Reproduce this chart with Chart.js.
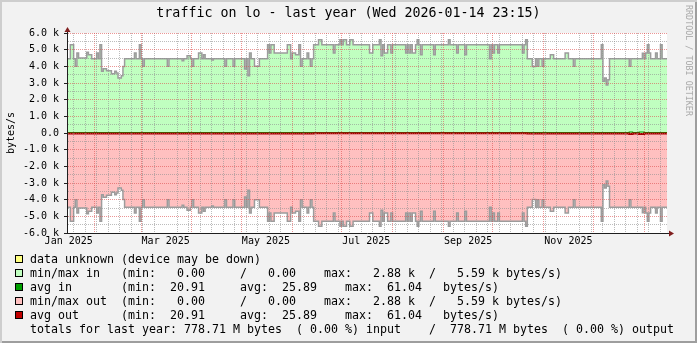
<!DOCTYPE html>
<html>
<head>
<meta charset="utf-8">
<title>traffic on lo - last year</title>
<script src="https://cdn.jsdelivr.net/npm/chart.js@4.4.1/dist/chart.umd.min.js"></script>
<style>
  body { margin: 0; background: #fff; }
  #graph {
    position: relative; width: 697px; height: 343px; overflow: hidden;
    background: #f2f2f2;
    box-shadow: inset 2px 2px 0 #cecece, inset -2px -2px 0 #9e9e9e;
    font-family: 'DejaVu Sans Mono', monospace;
    color: #000;
  }
  #graph canvas { position: absolute; left: 0; top: 0; }
  .title { position: absolute; left: 0; top: 5px; width: 697px; text-align: center; font-size: 13.3px; line-height: 16px; }
  .mark { position: absolute; left: 693px; top: 5px; transform: rotate(90deg); transform-origin: 0 0;
          font-size: 8.4px; line-height: 8.4px; color: #a9a9a9; white-space: nowrap; }
  .legend { position: absolute; left: 0; top: 252px; font-size: 11.63px; line-height: 14px; }
  .legend div { position: relative; height: 14px; padding-left: 30px; white-space: pre; }
  .legend i { position: absolute; left: 15px; top: 3px; width: 8px; height: 8px; border: 1px solid #000; box-sizing: border-box; }
</style>
</head>
<body>
<div id="graph">
  <canvas id="chart" width="697" height="343"></canvas>
  <div class="title">traffic on lo - last year (Wed 2026-01-14 23:15)</div>
  <div class="mark">RRDTOOL / TOBI OETIKER</div>
  <div class="legend">
    <div><i style="background:#ffff80"></i>data unknown (device may be down)</div>
    <div><i style="background:#c0ffc0"></i>min/max in   (min:   0.00     /   0.00    max:   2.88 k  /   5.59 k bytes/s)</div>
    <div><i style="background:#00a000"></i>avg in       (min:  20.91     avg:  25.89    max:  61.04   bytes/s)</div>
    <div><i style="background:#ffc0c0"></i>min/max out  (min:   0.00     /   0.00    max:   2.88 k  /   5.59 k bytes/s)</div>
    <div><i style="background:#c00000"></i>avg out      (min:  20.91     avg:  25.89    max:  61.04   bytes/s)</div>
    <div>totals for last year: 778.71 M bytes  ( 0.00 %) input    /  778.71 M bytes  ( 0.00 %) output</div>
  </div>
</div>
<script>
const DAY = 86400000
const start = Date.UTC(2025, 0, 14, 23, 15)
const end = Date.UTC(2026, 0, 14, 23, 15)

// daily max rate, bytes/s -- each value holds from its day until the next entry
const maxDays = [
  '2025-01-14', '2025-01-15', '2025-01-17', '2025-01-19', '2025-01-20', '2025-01-21', '2025-01-22',
  '2025-01-27', '2025-01-28', '2025-01-30', '2025-02-02', '2025-02-03', '2025-02-04', '2025-02-05',
  '2025-02-06', '2025-02-08', '2025-02-11', '2025-02-13', '2025-02-14', '2025-02-15', '2025-02-17',
  '2025-02-18', '2025-02-19', '2025-02-25', '2025-02-26', '2025-02-28', '2025-03-01', '2025-03-02',
  '2025-03-03', '2025-03-17', '2025-03-18', '2025-03-26', '2025-03-27', '2025-03-29', '2025-03-31',
  '2025-04-01', '2025-04-02', '2025-04-05', '2025-04-07', '2025-04-08', '2025-04-09', '2025-04-13',
  '2025-04-14', '2025-04-21', '2025-04-22', '2025-04-26', '2025-04-27', '2025-05-03', '2025-05-04',
  '2025-05-05', '2025-05-06', '2025-05-07', '2025-05-09', '2025-05-12', '2025-05-17', '2025-05-18',
  '2025-05-19', '2025-05-21', '2025-05-29', '2025-05-31', '2025-06-01', '2025-06-03', '2025-06-05',
  '2025-06-06', '2025-06-07', '2025-06-10', '2025-06-11', '2025-06-12', '2025-06-13', '2025-06-14',
  '2025-06-17', '2025-06-19', '2025-06-26', '2025-06-27', '2025-06-30', '2025-07-01', '2025-07-02',
  '2025-07-04', '2025-07-06', '2025-07-08', '2025-07-18', '2025-07-20', '2025-07-24', '2025-07-25',
  '2025-07-26', '2025-07-27', '2025-07-29', '2025-07-31', '2025-08-01', '2025-08-09', '2025-08-10',
  '2025-08-11', '2025-08-12', '2025-08-13', '2025-08-15', '2025-08-16', '2025-08-17', '2025-08-18',
  '2025-08-19', '2025-08-26', '2025-08-27', '2025-09-04', '2025-09-05', '2025-09-09', '2025-09-10',
  '2025-09-14', '2025-09-15', '2025-09-29', '2025-09-30', '2025-10-01', '2025-10-02', '2025-10-04',
  '2025-10-05', '2025-10-19', '2025-10-20', '2025-10-21', '2025-10-22', '2025-10-25', '2025-10-27',
  '2025-10-28', '2025-10-29', '2025-10-31', '2025-11-01', '2025-11-05', '2025-11-07', '2025-11-14',
  '2025-11-16', '2025-11-19', '2025-11-20', '2025-12-06', '2025-12-07', '2025-12-08', '2025-12-09',
  '2025-12-10', '2025-12-11', '2025-12-23', '2025-12-24', '2025-12-31', '2026-01-01', '2026-01-02',
  '2026-01-03', '2026-01-04', '2026-01-05', '2026-01-08', '2026-01-09', '2026-01-11', '2026-01-12',
  '2026-01-15'
]
const maxIn = [
  5300, 4450, 5300, 4450, 4000, 4800, 4500,
  4850, 4700, 4450, 4800, 4450, 5300, 3700,
  3850, 3740, 3550, 3700, 3600, 3300, 3440,
  3990, 4450, 4800, 4450, 5300, 4450, 4000,
  4450, 4000, 4450, 4340, 4450, 4640, 4450,
  4000, 4450, 4800, 4450, 4700, 4450, 4380,
  4450, 4000, 4450, 4000, 4450, 3840, 4450,
  3440, 4800, 4450, 4000, 4450, 5300, 4800,
  5300, 4800, 5300, 4450, 4800, 4700, 5300,
  4000, 4450, 4800, 4450, 4000, 4450, 5300,
  5590, 5300, 4800, 5300, 5590, 5300, 5590,
  5300, 5590, 5300, 4800, 5300, 5590, 4640,
  5300, 4800, 5300, 4800, 5300, 4800, 5300,
  4800, 5300, 4800, 5300, 5590, 5300, 4700,
  5300, 4700, 5300, 5590, 5300, 4800, 5300,
  4700, 5300, 4450, 5300, 4800, 5300, 4800,
  5300, 4800, 5300, 5590, 4450, 3990, 4450,
  4000, 4450, 4000, 4450, 4700, 4450, 4800,
  4450, 4000, 4450, 5300, 3100, 3300, 2880,
  3200, 4450, 4000, 4450, 4780, 4450, 4800,
  5300, 4800, 4450, 4800, 4450, 5300, 4450,
  4450
]
// loopback: outbound equals inbound
const maxOut = maxIn.slice()

// daily average rate, bytes/s
const avgDays = ['2025-01-14', '2025-06-14', '2025-10-22', '2025-12-23', '2025-12-25', '2025-12-29', '2026-01-01', '2026-01-15']
const avgIn = [25.6, 20.91, 24.8, 61.04, 25.3, 58.7, 25.1, 25.1]
const avgOut = [25.6, 20.91, 24.8, 61.04, 25.3, 58.7, 25.1, 25.1]

// x axis labels, centred on their month
const labelDays = ['2025-01-16', '2025-03-16', '2025-05-16', '2025-07-16', '2025-09-16', '2025-11-16']
const xLabels = ['Jan 2025', 'Mar 2025', 'May 2025', 'Jul 2025', 'Sep 2025', 'Nov 2025']

function utc(s) {
  const p = s.split('-')
  return Date.UTC(+p[0], +p[1] - 1, +p[2])
}

function series(days, values, sign) {
  return days.map((d, i) => ({ x: utc(d), y: sign * values[i] }))
}

/** weekly (sunday) lines, month lines and the label positions */
function timeTicks() {
  const ticks = new Map()
  for (let t = Date.UTC(2025, 0, 19); t < end; t += 7 * DAY) {
    ticks.set(t, { value: t, kind: 'minor' })
  }
  for (let m = 1; m <= 12; m++) {
    const t = Date.UTC(2025, m, 1)
    ticks.set(t, { value: t, kind: 'major' })
  }
  labelDays.forEach((d, i) => {
    const t = utc(d)
    ticks.set(t, { value: t, kind: 'label', text: xLabels[i] })
  })
  return [...ticks.values()].sort((a, b) => a.value - b.value)
}

const GRID = 'rgba(143,143,143,0.6)'
const MGRID = 'rgba(222,79,79,0.6)'

function gridColor(ctx) {
  const t = ctx.tick
  if (!t) return 'transparent'
  if (t.kind === 'label') return 'transparent'
  if (t.kind === 'major') return MGRID
  return GRID
}

function yGridColor(ctx) {
  if (!ctx.tick) return 'transparent'
  return ctx.tick.value % 1000 === 0 ? MGRID : GRID
}

const canvasBack = {
  id: 'canvasBack',
  beforeDraw(chart) {
    const { ctx, chartArea: a } = chart
    ctx.save()
    ctx.fillStyle = '#ffffff'
    ctx.fillRect(a.left, a.top, a.right - a.left, a.bottom - a.top)
    ctx.restore()
  },
  afterDraw(chart) {
    // little arrow heads at the ends of both axes
    const { ctx, chartArea: a } = chart
    ctx.save()
    ctx.strokeStyle = '#1f1f1f'
    ctx.lineWidth = 1
    ctx.beginPath()
    ctx.moveTo(a.right, a.bottom + 0.5)
    ctx.lineTo(a.right + 3, a.bottom + 0.5)
    ctx.moveTo(a.left + 0.5, a.top)
    ctx.lineTo(a.left + 0.5, a.top - 2)
    ctx.stroke()
    ctx.fillStyle = '#801f1f'
    ctx.beginPath()
    ctx.moveTo(a.right + 7, a.bottom + 0.5)
    ctx.lineTo(a.right + 2, a.bottom - 2.5)
    ctx.lineTo(a.right + 2, a.bottom + 3.5)
    ctx.closePath()
    ctx.fill()
    ctx.beginPath()
    ctx.moveTo(a.left + 0.5, a.top - 6)
    ctx.lineTo(a.left - 2.5, a.top - 1)
    ctx.lineTo(a.left + 3.5, a.top - 1)
    ctx.closePath()
    ctx.fill()
    ctx.restore()
  }
}

const mono = 'DejaVu Sans Mono'

new Chart(document.getElementById('chart'), {
  type: 'line',
  data: {
    datasets: [
      {
        label: 'avg out',
        data: series(avgDays, avgOut, -1),
        borderColor: '#a00000',
        borderWidth: 2,
        fill: false,
        order: 1
      },
      {
        label: 'avg in',
        data: series(avgDays, avgIn, 1),
        borderColor: '#00a000',
        borderWidth: 1.2,
        fill: false,
        order: 2
      },
      {
        label: 'min/max out',
        data: series(maxDays, maxOut, -1),
        borderColor: '#9c9c9c',
        backgroundColor: '#ffc0c0',
        borderWidth: 1.5,
        fill: 'origin',
        order: 3
      },
      {
        label: 'min/max in',
        data: series(maxDays, maxIn, 1),
        borderColor: '#9c9c9c',
        backgroundColor: '#c0ffc0',
        borderWidth: 1.5,
        fill: 'origin',
        order: 4
      }
    ]
  },
  options: {
    responsive: false,
    animation: false,
    events: [],
    layout: { padding: { top: 33, right: 30, bottom: 90, left: 0 } },
    elements: {
      point: { radius: 0 },
      // a value holds until the next sample
      line: { stepped: 'before', tension: 0, borderJoinStyle: 'miter' }
    },
    plugins: {
      legend: { display: false },
      tooltip: { enabled: false }
    },
    scales: {
      x: {
        type: 'linear',
        min: start,
        max: end,
        afterBuildTicks: scale => { scale.ticks = timeTicks() },
        afterFit: scale => { scale.height = 20 },
        grid: { color: gridColor, tickColor: 'transparent', tickLength: 2, z: 1 },
        border: { display: true, color: '#1f1f1f', width: 1, dash: [1, 1], z: 2 },
        ticks: {
          autoSkip: false,
          maxRotation: 0,
          padding: 0,
          color: '#000',
          font: { family: mono, size: 10 },
          callback: function (value, i, ticks) { return ticks[i].text || '' }
        }
      },
      y: {
        type: 'linear',
        min: -6000,
        max: 6000,
        afterBuildTicks: scale => {
          const ticks = []
          for (let v = -6000; v <= 6000; v += 500) ticks.push({ value: v })
          scale.ticks = ticks
        },
        afterFit: scale => { scale.width = 67 },
        grid: {
          color: yGridColor,
          tickColor: ctx => ctx.tick && ctx.tick.value % 1000 === 0 ? '#1f1f1f' : 'transparent',
          tickLength: 3,
          z: 1
        },
        border: { display: true, color: '#1f1f1f', width: 1, dash: [1, 1], z: 2 },
        title: {
          display: true,
          text: 'bytes/s',
          color: '#000',
          font: { family: mono, size: 10 },
          padding: { top: 5, bottom: 0 }
        },
        ticks: {
          autoSkip: false,
          padding: 5,
          color: '#000',
          font: { family: mono, size: 10 },
          callback: v => {
            if (v % 1000 !== 0) return ''
            return v === 0 ? '0.0' : (v / 1000).toFixed(1) + ' k'
          }
        }
      }
    }
  },
  plugins: [canvasBack]
})
</script>
</body>
</html>
